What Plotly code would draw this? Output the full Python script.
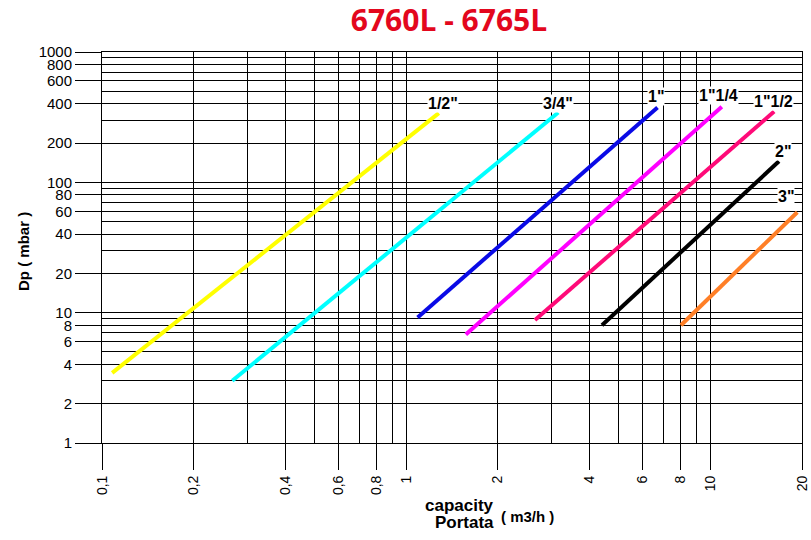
import numpy as np
import plotly.graph_objects as go

# ----------------------------
# DATA  (flow m3/h vs pressure drop mbar, log-log)
# ----------------------------
sizes = ['1/2"', '3/4"', '1"', '1"1/4', '1"1/2', '2"', '3"']
colors = ["#ffff00", "#00ffff", "#0a0ae6", "#ff00ff", "#ff0a78", "#000000", "#ff7f27"]

flow_start = [0.108, 0.268, 1.09, 1.57, 2.65, 4.4, 8.0]
flow_end = [1.28, 3.16, 6.7, 10.9, 16.2, 16.8, 19.3]
dp_start = [3.45, 3.0, 9.2, 6.8, 8.8, 8.0, 8.0]
dp_end = [340, 343, 375, 380, 349, 145, 59]

x_major = [0.1, 0.2, 0.4, 0.6, 0.8, 1, 2, 4, 6, 8, 10, 20]
x_major_text = ["0,1", "0,2", "0,4", "0,6", "0,8", "1", "2", "4", "6", "8", "10", "20"]
x_minor = [0.3, 0.5, 0.7, 0.9, 3, 5, 7, 9]

y_major = [1, 2, 4, 6, 8, 10, 20, 40, 60, 80, 100, 200, 400, 600, 800, 1000]
y_minor = [3, 5, 7, 9, 30, 50, 70, 90, 300, 500, 700, 900]

# label nudges (px) relative to each line end
label_dx = [4, 0, -2, -3, -1, 4, -11]
label_dy = [0, 0, 2, 2, 1, 0, 6]

fig = go.Figure()

for i, name in enumerate(sizes):
    fig.add_trace(go.Scatter(
        x=[flow_start[i], flow_end[i]],
        y=[dp_start[i], dp_end[i]],
        mode="lines",
        line=dict(color=colors[i], width=4),
        name=name,
        showlegend=False,
    ))
    fig.add_annotation(
        x=np.log10(flow_end[i]), y=np.log10(dp_end[i]),
        text="<b>" + name + "</b>",
        showarrow=False,
        xanchor="center", yanchor="bottom",
        xshift=label_dx[i], yshift=label_dy[i],
        bgcolor="white", borderpad=0,
        font=dict(family="Liberation Sans, Arial", size=16, color="black"),
    )

fig.update_xaxes(
    type="log",
    range=[np.log10(0.1), np.log10(20)],
    tickmode="array", tickvals=x_major, ticktext=x_major_text,
    tickangle=-90, ticks="outside", ticklen=26, tickcolor="black",
    tickfont=dict(family="Liberation Sans, Arial", size=14, color="black"),
    showgrid=True, gridcolor="black", gridwidth=1,
    minor=dict(tickmode="array", tickvals=x_minor, showgrid=True,
               gridcolor="black", gridwidth=1, ticks=""),
    showline=True, linecolor="black", mirror=True,
    zeroline=False, automargin=False,
)
fig.update_yaxes(
    type="log",
    range=[0, 3],
    tickmode="array", tickvals=y_major, ticktext=[str(v) for v in y_major],
    ticks="outside", ticklen=26, tickcolor="black",
    tickfont=dict(family="Liberation Sans, Arial", size=15, color="black"),
    showgrid=True, gridcolor="black", gridwidth=1,
    minor=dict(tickmode="array", tickvals=y_minor, showgrid=True,
               gridcolor="black", gridwidth=1, ticks=""),
    showline=True, linecolor="black", mirror=True,
    zeroline=False, automargin=False,
)

# axis captions
fig.add_annotation(
    xref="paper", yref="paper", x=(24 - 102) / 700, y=(443 - 252) / 391,
    xanchor="center", yanchor="middle",
    text="<b>Dp ( mbar )</b>", textangle=-90, showarrow=False,
    font=dict(family="Liberation Sans, Arial", size=15, color="black"),
)
fig.add_annotation(
    xref="paper", yref="paper", x=(496 - 102) / 700, y=(443 - 505) / 391,
    xanchor="right", yanchor="middle",
    text="<b>capacity</b>", showarrow=False,
    font=dict(family="Liberation Sans, Arial", size=17, color="black"),
)
fig.add_annotation(
    xref="paper", yref="paper", x=(496 - 102) / 700, y=(443 - 522) / 391,
    xanchor="right", yanchor="middle",
    text="<b>Portata</b>", showarrow=False,
    font=dict(family="Liberation Sans, Arial", size=17, color="black"),
)
fig.add_annotation(
    xref="paper", yref="paper", x=(499 - 102) / 700, y=(443 - 516) / 391,
    xanchor="left", yanchor="middle",
    text="<b>( m3/h )</b>", showarrow=False,
    font=dict(family="Liberation Sans, Arial", size=15, color="black"),
)

fig.update_layout(
    title=dict(
        text="<b>6760L - 6765L</b>",
        x=449 / 811, xanchor="center",
        y=1 - 20 / 540, yanchor="middle",
        font=dict(family="Open Sans", size=30, color="#e3071d"),
    ),
    width=811, height=540,
    margin=dict(l=102, r=9, t=52, b=97, autoexpand=False),
    paper_bgcolor="white",
    plot_bgcolor="white",
)

# drop the browser's default body margin so the figure sits at the page corner
fig.write_html("out.html", config={"displayModeBar": False},
               post_script="document.body.style.margin='0';")
